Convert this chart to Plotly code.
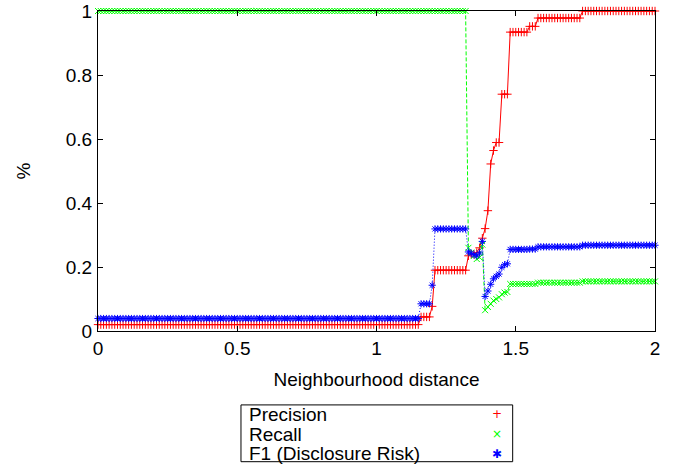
import plotly.graph_objects as go

# Neighbourhood distance thresholds (0.00 .. 2.00, step 0.01)
distance = [round(i * 0.01, 2) for i in range(201)]

# Values, run by run
precision = ([0.02] * 116 + [0.044] * 4 + [0.077] + [0.19] * 12 +
             [0.235, 0.24, 0.24, 0.245, 0.26, 0.29, 0.32, 0.376, 0.522, 0.564,
              0.589, 0.589, 0.74, 0.74, 0.74] +
             [0.934] * 7 + [0.952] * 3 + [0.978] * 16 + [1.0] * 27)

recall = ([1.0] * 116 + [1.0] * 4 + [1.0] + [1.0] * 12 +
          [0.26, 0.245, 0.235, 0.225, 0.23, 0.27, 0.065, 0.075, 0.085, 0.095,
           0.10, 0.105, 0.115, 0.12, 0.122] +
          [0.147] * 7 + [0.147] * 3 + [0.151] * 16 + [0.155] * 27)

f1 = ([0.039] * 116 + [0.085] * 4 + [0.143] + [0.319] * 12 +
      [0.247, 0.243, 0.238, 0.235, 0.244, 0.28, 0.108, 0.125, 0.146, 0.163,
       0.171, 0.178, 0.199, 0.207, 0.21] +
      [0.255] * 7 + [0.256] * 3 + [0.263] * 16 + [0.268] * 27)

series_names = ["Precision", "Recall", "F1 (Disclosure Risk)"]
colors = ["#ff0000", "#00ff00", "#0000ff"]
symbols = ["cross-thin", "x-thin", "asterisk"]
key_glyphs = ["+", "\u00d7", "\u2731"]
dashes = ["solid", "4px,2px", "1px,2px"]
values = [precision, recall, f1]

FONT = "Liberation Sans, Arial, Helvetica, sans-serif"
FS = 19

fig = go.Figure()
for name, col, sym, dash, ys in zip(series_names, colors, symbols, dashes, values):
    fig.add_trace(go.Scatter(
        x=distance, y=ys, mode="lines+markers", name=name,
        line=dict(color=col, width=1, dash=dash),
        marker=dict(symbol=sym, size=6, color=col, line=dict(color=col, width=1)),
        cliponaxis=False, showlegend=False, hoverinfo="skip",
    ))

axis_common = dict(
    showline=True, linecolor="black", linewidth=1, mirror="ticks",
    ticks="inside", ticklen=5, tickcolor="black", tickwidth=1,
    showgrid=False, zeroline=False, automargin=False,
    tickfont=dict(family=FONT, size=FS, color="black"),
)

fig.update_xaxes(
    range=[0, 2], tickvals=[0, 0.5, 1, 1.5, 2], ticktext=["0", "0.5", "1", "1.5", "2"],
    title=dict(text="Neighbourhood distance", font=dict(family=FONT, size=FS, color="black"),
               standoff=14),
    ticklabelstandoff=0,
    **axis_common,
)
fig.update_yaxes(
    range=[0, 1], tickvals=[0, 0.2, 0.4, 0.6, 0.8, 1], ticktext=["0", "0.2", "0.4", "0.6", "0.8", "1"],
    title=dict(text="%", font=dict(family=FONT, size=FS, color="black"), standoff=30),
    ticklabelstandoff=1,
    **axis_common,
)

# gnuplot-style key: box below the plot, labels on the left, symbols on the right
key_left, key_right, key_top, key_bottom = 0.2567, 0.7445, -0.231, -0.4084
row_y = [-0.2603, -0.3228, -0.3834]
fig.add_shape(type="rect", xref="paper", yref="paper",
              x0=key_left, x1=key_right, y0=key_bottom, y1=key_top,
              line=dict(color="black", width=1), fillcolor="white", layer="above")
for name, col, glyph, yy in zip(series_names, colors, key_glyphs, row_y):
    fig.add_annotation(xref="paper", yref="paper", x=0.268, y=yy, text=name,
                       xanchor="left", yanchor="middle", showarrow=False,
                       font=dict(family=FONT, size=FS, color="black"))
    fig.add_annotation(xref="paper", yref="paper", x=0.7158, y=yy, text=glyph,
                       xanchor="center", yanchor="middle", showarrow=False,
                       font=dict(family="DejaVu Sans", size=12, color=col))

fig.update_layout(
    width=673, height=465,
    margin=dict(l=98, r=18, t=11, b=134, autoexpand=False),
    paper_bgcolor="white", plot_bgcolor="white",
    font=dict(family=FONT, size=FS, color="black"),
    showlegend=False, hovermode=False,
)

fig.write_html("out.html", config={"displayModeBar": False, "staticPlot": True},
               post_script="document.body.style.margin='0';")
